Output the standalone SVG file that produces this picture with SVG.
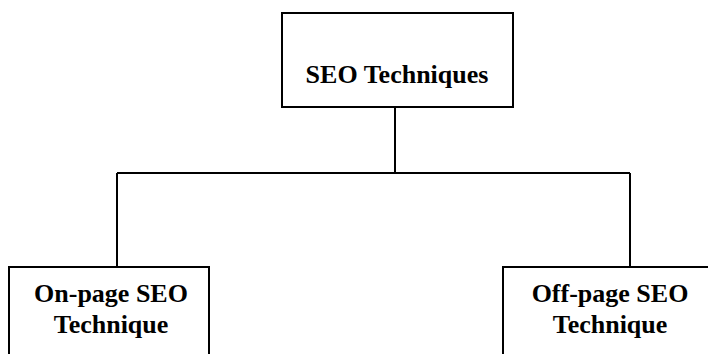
<svg xmlns="http://www.w3.org/2000/svg" width="708" height="354" viewBox="0 0 708 354">
<style>
.box{fill:#fff;stroke:#000;stroke-width:2}
.t{font-family:"Liberation Serif",serif;font-weight:bold;font-size:26px;fill:#000;text-anchor:middle}
.c{fill:none;stroke:#000;stroke-width:2}
</style>
<rect width="708" height="354" fill="#fff"/>
<g id="connectors">
<path class="c" d="M395 107V173M117 173H630M117 173V267M630 173V267"/>
</g>
<g id="root">
<rect class="box" x="282" y="13" width="231" height="94"/>
<text class="t" x="397" y="83">SEO Techniques</text>
</g>
<g id="onpage">
<rect class="box" x="9" y="267" width="200" height="100"/>
<text class="t" x="111" y="302">On-page SEO</text>
<text class="t" x="111" y="333">Technique</text>
</g>
<g id="offpage">
<rect class="box" x="503" y="267" width="215" height="100"/>
<text class="t" x="610" y="302">Off-page SEO</text>
<text class="t" x="610" y="333">Technique</text>
</g>
</svg>
